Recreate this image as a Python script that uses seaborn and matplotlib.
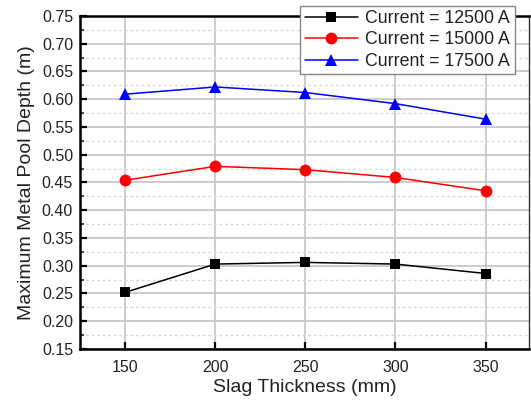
import matplotlib
matplotlib.use("Agg")
import matplotlib.pyplot as plt
from matplotlib.ticker import MultipleLocator
import seaborn as sns
import pandas as pd

slag_thickness = [150, 200, 250, 300, 350]
depth_12500 = [0.252, 0.303, 0.306, 0.303, 0.286]
depth_15000 = [0.454, 0.479, 0.473, 0.459, 0.435]
depth_17500 = [0.609, 0.622, 0.612, 0.592, 0.564]
series_labels = ["Current = 12500 A", "Current = 15000 A", "Current = 17500 A"]
colors = ["#000000", "#ff0000", "#0000ff"]
markers = ["s", "o", "^"]

rows = []
for label, vals in zip(series_labels, [depth_12500, depth_15000, depth_17500]):
    for x, y in zip(slag_thickness, vals):
        rows.append({"Slag": x, "Depth": y, "Series": label})
df = pd.DataFrame(rows)

sns.set_style("white")
plt.rcParams["font.family"] = ["Liberation Sans", "DejaVu Sans"]

fig = plt.figure(figsize=(5.31, 4.08), dpi=100)
ax = fig.add_axes([0.1507, 0.1446, 0.996 - 0.1507, 0.961 - 0.1446])

sns.lineplot(data=df, x="Slag", y="Depth", hue="Series", style="Series",
             palette=colors, markers=markers, dashes=False, markersize=8.5,
             linewidth=1.1, markeredgewidth=0, ax=ax, zorder=3)
for line in ax.lines:
    if line.get_marker() == "s":
        line.set_markersize(7.5)

ax.set_xlim(125, 374)
ax.set_ylim(0.15, 0.75)
ax.set_xticks(slag_thickness)
ax.yaxis.set_major_locator(MultipleLocator(0.05))
ax.yaxis.set_minor_locator(MultipleLocator(0.025))
ax.yaxis.set_major_formatter(matplotlib.ticker.FormatStrFormatter("%.2f"))

ax.grid(which="major", axis="both", color="#c4c4c4", linewidth=1.2, linestyle="-", zorder=0)
ax.grid(which="minor", axis="y", color="#d8d8d8", linewidth=1.0, linestyle=(0, (2, 2)), zorder=0)
ax.set_axisbelow(True)

ax.tick_params(axis="both", which="major", direction="in", length=5, width=1.6,
               labelsize=11.5, colors="#000000", labelcolor="#222222", pad=5)
ax.tick_params(axis="x", which="major", pad=8)
ax.tick_params(axis="y", which="minor", direction="in", length=3, width=1.2, left=True)
ax.tick_params(axis="x", which="both", bottom=True, top=False)
ax.tick_params(axis="y", which="both", left=True, right=False)

for side in ["left", "bottom", "top"]:
    ax.spines[side].set_linewidth(1.8)
    ax.spines[side].set_color("#000000")
ax.spines["right"].set_linewidth(1.0)
ax.spines["right"].set_color("#333333")

ax.set_xlabel("Slag Thickness (mm)", fontsize=14, color="#222222", labelpad=3)
ax.set_ylabel("Maximum Metal Pool Depth (m)", fontsize=14, color="#222222", labelpad=5)

leg = ax.legend(loc="upper right", bbox_to_anchor=(0.968, 1.031), fontsize=12.8,
                frameon=True, fancybox=False, edgecolor="#888888", framealpha=1,
                handlelength=3.0, borderpad=0.25, labelspacing=0.25, handletextpad=0.4,
                borderaxespad=0)
leg.get_frame().set_linewidth(1.0)
leg.set_zorder(5)
for t in leg.get_texts():
    t.set_color("#222222")

fig.savefig("out.png", dpi=100)
